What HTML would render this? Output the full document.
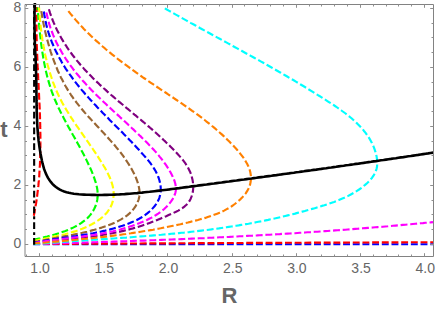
<!DOCTYPE html>
<html><head><meta charset="utf-8"><title>t vs R</title>
<style>html,body{margin:0;padding:0;background:#fff;}body{width:436px;height:309px;overflow:hidden;font-family:"Liberation Sans",sans-serif;}svg{display:block;}</style>
</head><body>
<svg width="436" height="309" viewBox="0 0 436 309">
<rect width="436" height="309" fill="#fff"/>
<g fill="none" stroke-width="2.15" stroke-dasharray="6.9 2.784" stroke-linecap="butt" stroke-linejoin="round">
<path stroke="#ff0000" pathLength="74.02" d="M33.8 215.8L34.3 213.3L34.7 210.7L35.2 208.2L35.6 205.7L36.1 203.2L36.5 200.6L36.8 198.1L37.2 195.6L37.5 193.0L37.8 190.5L38.1 188.0L38.4 185.4L38.6 182.9L38.9 180.4L39.1 177.8L39.3 175.3L39.4 172.7L39.6 170.2L39.7 167.7L39.9 165.1L40.0 162.6L40.1 160.0L40.2 157.5L40.2 154.9L40.3 152.4L40.3 149.8L40.4 147.3L40.4 144.8L40.4 142.2"/>
<path stroke="#ff0000" pathLength="134.19" stroke-dashoffset="6.23" d="M40.4 142.2L40.4 139.7L40.4 137.1L40.4 134.6L40.3 132.0L40.3 129.5L40.2 126.9L40.2 124.4L40.1 121.8L40.0 119.3L40.0 116.7L39.9 114.2L39.8 111.6L39.7 109.1L39.6 106.5L39.5 104.0L39.3 101.4L39.2 98.9L39.1 96.3L39.0 93.8L38.9 91.2L38.7 88.6L38.6 86.1L38.5 83.5L38.4 81.0L38.2 78.4L38.1 75.9L38.0 73.3L37.9 70.8L37.7 68.2L37.6 65.7L37.5 63.1L37.4 60.6L37.3 58.0L37.2 55.5L37.1 52.9L37.0 50.4L36.9 47.8L36.8 45.3L36.7 42.7L36.7 40.2L36.6 37.6L36.6 35.0L36.5 32.5L36.5 29.9L36.5 27.4L36.5 24.8L36.5 22.3L36.5 19.8L36.5 17.2L36.5 14.7L36.6 12.1L36.6 9.6L36.7 7.0"/>
<path stroke="#00ff00" pathLength="84.94" d="M33.6 240.0L35.7 239.4L37.9 238.8L40.2 238.3L42.5 237.7L44.9 237.1L47.3 236.5L49.8 235.8L52.2 235.2L54.7 234.5L57.2 233.7L59.8 233.0L62.3 232.1L64.8 231.2L67.3 230.2L69.8 229.2L72.2 228.1L74.6 226.9L76.9 225.7L79.2 224.4L81.4 222.9L83.4 221.4L85.4 219.9L87.3 218.2L89.0 216.4L90.6 214.6L92.0 212.6L93.3 210.6L94.4 208.5L95.4 206.3L96.2 204.1L96.9 201.8L97.3 199.5L97.6 197.2L97.7 194.8"/>
<path stroke="#00ff00" pathLength="198.91" stroke-dashoffset="7.47" d="M97.7 194.8L97.6 192.4L97.4 190.0L97.0 187.6L96.4 185.2L95.8 182.7L95.0 180.3L94.2 177.9L93.3 175.5L92.4 173.1L91.4 170.7L90.4 168.4L89.3 166.0L88.2 163.7L87.1 161.4L86.0 159.1L84.9 156.8L83.7 154.6L82.5 152.3L81.3 150.1L80.1 147.8L78.9 145.6L77.7 143.4L76.5 141.2L75.2 138.9L74.0 136.7L72.7 134.5L71.5 132.3L70.3 130.1L69.0 127.9L67.8 125.7L66.6 123.5L65.4 121.3L64.2 119.1L63.1 116.8L61.9 114.6L60.8 112.4L59.7 110.1L58.6 107.9L57.5 105.6L56.5 103.3L55.5 101.0L54.5 98.7L53.6 96.4L52.7 94.0L51.8 91.7L51.0 89.3L50.2 86.9L49.5 84.5L48.8 82.1L48.1 79.7L47.4 77.2L46.8 74.8L46.2 72.3L45.6 69.8L45.1 67.4L44.6 64.9L44.1 62.4L43.6 59.9L43.2 57.4L42.8 54.9L42.4 52.3L42.0 49.8L41.7 47.3L41.3 44.8L41.0 42.3L40.7 39.7L40.4 37.2L40.1 34.7L39.8 32.2L39.6 29.7L39.3 27.2L39.1 24.7L38.9 22.2L38.6 19.7L38.4 17.2L38.2 14.7L38.0 12.2L37.8 9.8L37.6 7.3"/>
<path stroke="#ffff00" pathLength="100.75" d="M33.4 241.2L35.8 240.6L38.1 240.1L40.5 239.5L43.0 239.0L45.4 238.5L47.8 238.0L50.3 237.4L52.7 236.9L55.2 236.4L57.6 235.9L60.1 235.3L62.6 234.8L65.0 234.2L67.5 233.5L70.0 232.9L72.4 232.1L74.9 231.4L77.4 230.6L79.8 229.7L82.2 228.8L84.7 227.7L87.1 226.7L89.5 225.5L91.8 224.3L94.1 223.0L96.3 221.6L98.5 220.2L100.6 218.6L102.5 217.0L104.3 215.3L106.1 213.5L107.6 211.7L109.0 209.7L110.2 207.7L111.3 205.6L112.1 203.4L112.8 201.1L113.2 198.8L113.5 196.5L113.6 194.1"/>
<path stroke="#ffff00" pathLength="204.41" stroke-dashoffset="3.91" d="M113.6 194.1L113.6 191.8L113.3 189.4L112.9 187.0L112.3 184.6L111.6 182.3L110.8 179.9L109.8 177.5L108.7 175.2L107.6 172.9L106.3 170.5L105.1 168.2L103.7 166.0L102.4 163.7L101.0 161.5L99.6 159.3L98.2 157.1L96.8 154.9L95.3 152.7L93.9 150.6L92.5 148.5L91.0 146.4L89.6 144.3L88.1 142.2L86.6 140.1L85.2 138.0L83.7 135.9L82.3 133.9L80.8 131.8L79.4 129.7L78.0 127.7L76.5 125.6L75.1 123.6L73.7 121.5L72.4 119.4L71.0 117.3L69.7 115.2L68.4 113.1L67.1 111.0L65.8 108.9L64.5 106.7L63.3 104.6L62.1 102.4L61.0 100.2L59.8 98.0L58.7 95.7L57.7 93.5L56.7 91.2L55.7 88.9L54.7 86.5L53.8 84.2L52.9 81.8L52.1 79.4L51.3 77.0L50.5 74.6L49.7 72.2L49.0 69.7L48.3 67.3L47.6 64.8L47.0 62.3L46.4 59.8L45.8 57.3L45.2 54.8L44.7 52.3L44.2 49.8L43.7 47.3L43.3 44.7L42.9 42.2L42.4 39.7L42.1 37.2L41.7 34.6L41.4 32.1L41.0 29.6L40.7 27.1L40.5 24.6L40.2 22.1L40.0 19.6L39.7 17.1L39.5 14.7L39.3 12.2L39.2 9.8L39.0 7.4"/>
<path stroke="#996633" pathLength="126.24" d="M33.2 242.4L35.8 241.8L38.3 241.3L40.9 240.7L43.4 240.2L45.9 239.7L48.4 239.2L50.9 238.8L53.4 238.3L55.8 237.9L58.3 237.4L60.7 237.0L63.1 236.6L65.5 236.1L67.9 235.7L70.3 235.2L72.7 234.8L75.1 234.3L77.5 233.8L79.9 233.3L82.3 232.8L84.7 232.2L87.1 231.7L89.6 231.1L92.0 230.4L94.4 229.8L96.8 229.1L99.3 228.3L101.7 227.6L104.2 226.7L106.7 225.9L109.1 225.0L111.6 224.0L114.1 222.9L116.5 221.8L118.8 220.6L121.1 219.4L123.4 218.0L125.5 216.6L127.5 215.1L129.5 213.4L131.3 211.7L132.9 209.8L134.4 207.9L135.8 205.8L136.9 203.7L137.9 201.5L138.7 199.3L139.2 197.0L139.5 194.7L139.5 192.4"/>
<path stroke="#996633" pathLength="211.18" stroke-dashoffset="0.35" d="M139.5 192.4L139.4 190.0L139.0 187.6L138.5 185.3L137.8 182.9L137.0 180.5L136.1 178.2L135.1 175.8L134.0 173.5L132.8 171.3L131.6 169.0L130.3 166.8L129.0 164.6L127.6 162.5L126.2 160.4L124.8 158.3L123.3 156.2L121.8 154.2L120.3 152.2L118.7 150.2L117.1 148.3L115.5 146.3L113.9 144.4L112.2 142.5L110.5 140.6L108.8 138.7L107.1 136.8L105.4 134.9L103.7 133.1L102.0 131.2L100.2 129.4L98.5 127.5L96.8 125.7L95.0 123.8L93.3 122.0L91.6 120.1L89.9 118.2L88.2 116.4L86.5 114.5L84.8 112.6L83.2 110.7L81.6 108.8L80.0 106.8L78.4 104.9L76.8 102.9L75.3 100.9L73.8 98.9L72.4 96.9L70.9 94.8L69.6 92.7L68.2 90.6L66.9 88.4L65.6 86.3L64.4 84.1L63.2 81.8L62.1 79.6L60.9 77.4L59.8 75.1L58.8 72.8L57.7 70.5L56.8 68.1L55.8 65.8L54.9 63.4L54.0 61.1L53.1 58.7L52.2 56.3L51.4 53.9L50.6 51.5L49.9 49.0L49.2 46.6L48.5 44.2L47.8 41.7L47.1 39.3L46.5 36.8L45.9 34.4L45.3 31.9L44.8 29.5L44.2 27.0L43.7 24.6L43.2 22.1L42.8 19.7L42.3 17.2L41.9 14.8L41.5 12.3L41.1 9.9"/>
<path stroke="#0000ff" pathLength="147.49" d="M33.2 242.8L35.7 242.3L38.3 241.9L40.8 241.4L43.3 241.0L45.9 240.6L48.4 240.2L50.9 239.8L53.4 239.4L55.9 239.0L58.4 238.6L60.9 238.3L63.4 237.9L65.9 237.5L68.4 237.2L70.8 236.8L73.3 236.4L75.8 236.1L78.3 235.7L80.7 235.3L83.2 234.9L85.6 234.5L88.1 234.1L90.6 233.6L93.0 233.2L95.5 232.7L97.9 232.2L100.4 231.7L102.8 231.1L105.3 230.6L107.7 230.0L110.2 229.4L112.6 228.7L115.1 228.0L117.5 227.3L120.0 226.5L122.5 225.8L124.9 224.9L127.3 224.0L129.8 223.1L132.2 222.1L134.5 221.1L136.8 220.0L139.1 218.8L141.3 217.5L143.5 216.1L145.6 214.7L147.6 213.1L149.5 211.5L151.4 209.8L153.1 207.9L154.8 206.0L156.2 203.9L157.5 201.8L158.7 199.6L159.5 197.3L160.2 194.9L160.6 192.5L160.8 190.1"/>
<path stroke="#0000ff" pathLength="219.93" stroke-dashoffset="2.23" d="M160.8 190.1L160.7 187.6L160.5 185.1L160.0 182.7L159.4 180.3L158.7 178.0L157.8 175.7L156.8 173.4L155.7 171.3L154.4 169.1L153.1 167.0L151.7 165.0L150.2 162.9L148.6 160.9L147.0 159.0L145.3 157.0L143.6 155.1L141.9 153.2L140.2 151.2L138.4 149.3L136.7 147.5L134.9 145.6L133.1 143.7L131.4 141.8L129.6 140.0L127.8 138.1L126.0 136.3L124.2 134.5L122.4 132.6L120.6 130.8L118.8 129.0L117.0 127.2L115.2 125.4L113.4 123.5L111.5 121.7L109.7 119.9L108.0 118.1L106.2 116.3L104.4 114.5L102.6 112.7L100.8 110.8L99.1 109.0L97.3 107.2L95.6 105.3L93.8 103.5L92.1 101.6L90.4 99.8L88.7 97.9L87.1 96.0L85.4 94.2L83.8 92.3L82.1 90.4L80.5 88.5L78.9 86.5L77.4 84.6L75.8 82.6L74.3 80.7L72.8 78.7L71.4 76.7L69.9 74.7L68.5 72.7L67.1 70.6L65.7 68.6L64.4 66.5L63.1 64.4L61.8 62.3L60.6 60.1L59.4 58.0L58.2 55.8L57.1 53.6L56.0 51.4L54.9 49.1L53.9 46.8L52.9 44.5L51.9 42.2L51.0 39.8L50.1 37.5L49.3 35.1L48.5 32.6L47.8 30.2L47.1 27.7L46.4 25.1L45.8 22.6L45.3 20.0L44.8 17.4L44.3 14.7L43.9 12.0L43.5 9.3"/>
<path stroke="#800080" pathLength="180.02" d="M33.2 243.5L35.7 243.1L38.1 242.8L40.6 242.5L43.1 242.2L45.6 241.9L48.1 241.6L50.6 241.3L53.1 241.1L55.6 240.8L58.1 240.5L60.7 240.2L63.2 240.0L65.7 239.7L68.2 239.4L70.8 239.1L73.3 238.9L75.8 238.6L78.4 238.3L80.9 238.0L83.4 237.7L86.0 237.3L88.5 237.0L91.0 236.7L93.5 236.3L96.1 236.0L98.6 235.6L101.1 235.2L103.6 234.8L106.1 234.4L108.6 233.9L111.1 233.5L113.5 233.0L116.0 232.5L118.5 232.0L120.9 231.4L123.4 230.9L125.8 230.3L128.2 229.7L130.6 229.0L133.0 228.4L135.4 227.7L137.8 227.0L140.2 226.2L142.5 225.4L144.9 224.6L147.2 223.8L149.6 222.9L151.9 222.0L154.3 221.1L156.6 220.2L159.0 219.2L161.4 218.2L163.8 217.2L166.2 216.2L168.6 215.1L171.1 214.0L173.5 212.9L176.0 211.8L178.3 210.6L180.6 209.3L182.7 207.9L184.7 206.3L186.5 204.7L188.1 202.9L189.5 201.0L190.6 198.9L191.5 196.7L192.3 194.4L192.8 192.1L193.1 189.7L193.2 187.2"/>
<path stroke="#800080" pathLength="234.98" stroke-dashoffset="5.71" d="M193.2 187.2L193.1 184.7L192.9 182.2L192.5 179.7L191.9 177.3L191.2 174.8L190.4 172.5L189.3 170.2L188.2 168.0L186.9 165.8L185.6 163.7L184.1 161.7L182.6 159.7L181.0 157.8L179.3 155.9L177.6 154.0L175.9 152.2L174.2 150.3L172.4 148.5L170.6 146.7L168.8 144.9L167.0 143.2L165.2 141.4L163.3 139.7L161.5 137.9L159.6 136.2L157.7 134.5L155.8 132.8L153.9 131.1L152.0 129.4L150.1 127.8L148.2 126.1L146.2 124.4L144.3 122.8L142.3 121.1L140.4 119.5L138.4 117.9L136.5 116.2L134.5 114.6L132.6 113.0L130.6 111.3L128.7 109.7L126.7 108.1L124.8 106.5L122.8 104.8L120.9 103.2L118.9 101.6L117.0 99.9L115.1 98.3L113.2 96.6L111.2 95.0L109.3 93.3L107.4 91.6L105.6 89.9L103.7 88.3L101.8 86.6L100.0 84.9L98.2 83.1L96.3 81.4L94.5 79.7L92.8 77.9L91.0 76.1L89.2 74.3L87.5 72.5L85.8 70.7L84.1 68.9L82.5 67.0L80.8 65.2L79.2 63.3L77.6 61.4L76.0 59.5L74.5 57.5L72.9 55.5L71.4 53.5L70.0 51.5L68.5 49.5L67.1 47.4L65.8 45.3L64.4 43.2L63.1 41.1L61.8 38.9L60.6 36.7L59.4 34.5L58.2 32.2L57.0 30.0L55.9 27.6L54.9 25.3L53.8 22.9L52.8 20.5L51.9 18.1L51.0 15.6L50.1 13.1L49.3 10.5L48.5 7.9"/>
<path stroke="#ff00ff" pathLength="162.26" d="M33.2 243.2L35.7 242.7L38.3 242.3L40.9 241.9L43.4 241.5L46.0 241.1L48.5 240.8L51.1 240.4L53.6 240.1L56.1 239.8L58.6 239.5L61.1 239.1L63.7 238.8L66.2 238.5L68.6 238.2L71.1 237.9L73.6 237.6L76.1 237.3L78.6 237.0L81.1 236.7L83.5 236.4L86.0 236.0L88.4 235.7L90.9 235.3L93.4 235.0L95.8 234.6L98.3 234.2L100.7 233.7L103.1 233.3L105.6 232.8L108.0 232.3L110.5 231.8L112.9 231.3L115.3 230.7L117.8 230.1L120.2 229.5L122.6 228.8L125.1 228.1L127.5 227.4L129.9 226.6L132.4 225.8L134.8 224.9L137.2 224.0L139.7 223.1L142.1 222.1L144.5 221.0L146.9 220.0L149.2 218.8L151.6 217.6L153.8 216.3L156.0 215.0L158.2 213.6L160.3 212.1L162.3 210.6L164.2 209.0L166.0 207.3L167.7 205.5L169.4 203.6L170.9 201.7L172.3 199.7L173.5 197.5L174.5 195.3L175.3 193.1L175.8 190.8L175.9 188.4"/>
<path stroke="#ff00ff" pathLength="224.88" stroke-dashoffset="7.32" d="M175.9 188.4L175.7 186.0L175.3 183.6L174.6 181.2L173.7 178.8L172.6 176.4L171.4 174.1L170.2 171.8L168.8 169.5L167.5 167.3L166.1 165.2L164.6 163.1L163.1 161.1L161.6 159.0L160.0 157.1L158.4 155.1L156.8 153.2L155.2 151.4L153.5 149.5L151.8 147.7L150.1 145.9L148.3 144.1L146.6 142.3L144.8 140.5L143.0 138.7L141.2 136.9L139.4 135.2L137.6 133.4L135.7 131.7L133.9 129.9L132.0 128.2L130.2 126.5L128.3 124.8L126.5 123.0L124.6 121.3L122.7 119.6L120.8 117.9L119.0 116.1L117.1 114.4L115.2 112.7L113.3 111.0L111.5 109.2L109.6 107.5L107.7 105.8L105.9 104.0L104.0 102.3L102.2 100.5L100.4 98.8L98.5 97.0L96.7 95.2L94.9 93.5L93.2 91.7L91.4 89.9L89.6 88.1L87.9 86.2L86.2 84.4L84.5 82.5L82.8 80.7L81.2 78.8L79.5 76.9L77.9 75.0L76.3 73.1L74.8 71.1L73.2 69.2L71.7 67.2L70.2 65.2L68.8 63.2L67.4 61.1L66.0 59.1L64.6 57.0L63.3 54.9L62.0 52.8L60.8 50.6L59.6 48.5L58.4 46.3L57.2 44.0L56.1 41.8L55.1 39.5L54.1 37.2L53.1 34.9L52.2 32.5L51.3 30.1L50.4 27.7L49.6 25.2L48.9 22.8L48.2 20.2L47.6 17.7L47.0 15.1L46.4 12.5L45.9 9.8"/>
<path stroke="#0000ff" d="M33.2 244.2L433.0 244.2"/>
<path stroke="#ff0000" d="M33.2 244.0L233.0 243.0L433.0 242.2"/>
<path stroke="#ff00ff" d="M33.2 244.0L35.7 243.9L38.2 243.8L40.7 243.8L43.3 243.7L45.8 243.6L48.3 243.6L50.8 243.5L53.3 243.4L55.9 243.4L58.4 243.3L60.9 243.2L63.4 243.1L65.9 243.1L68.4 243.0L71.0 242.9L73.5 242.9L76.0 242.8L78.5 242.7L81.0 242.6L83.5 242.6L86.1 242.5L88.6 242.4L91.1 242.3L93.6 242.3L96.1 242.2L98.7 242.1L101.2 242.0L103.7 241.9L106.2 241.9L108.7 241.8L111.2 241.7L113.8 241.6L116.3 241.5L118.8 241.4L121.3 241.4L123.8 241.3L126.3 241.2L128.9 241.1L131.4 241.0L133.9 240.9L136.4 240.8L138.9 240.7L141.5 240.6L144.0 240.6L146.5 240.5L149.0 240.4L151.5 240.3L154.0 240.2L156.6 240.1L159.1 240.0L161.6 239.9L164.1 239.8L166.6 239.7L169.1 239.6L171.7 239.5L174.2 239.4L176.7 239.3L179.2 239.2L181.7 239.1L184.2 239.0L186.8 238.8L189.3 238.7L191.8 238.6L194.3 238.5L196.8 238.4L199.3 238.3L201.8 238.2L204.4 238.1L206.9 237.9L209.4 237.8L211.9 237.7L214.4 237.6L216.9 237.5L219.5 237.3L222.0 237.2L224.5 237.1L227.0 237.0L229.5 236.9L232.0 236.7L234.6 236.6L237.1 236.5L239.6 236.3L242.1 236.2L244.6 236.1L247.1 235.9L249.6 235.8L252.2 235.7L254.7 235.5L257.2 235.4L259.7 235.2L262.2 235.1L264.7 235.0L267.2 234.8L269.8 234.7L272.3 234.5L274.8 234.4L277.3 234.2L279.8 234.1L282.3 233.9L284.8 233.8L287.4 233.6L289.9 233.5L292.4 233.3L294.9 233.2L297.4 233.0L299.9 232.8L302.4 232.7L305.0 232.5L307.5 232.3L310.0 232.2L312.5 232.0L315.0 231.8L317.5 231.7L320.0 231.5L322.5 231.3L325.1 231.1L327.6 231.0L330.1 230.8L332.6 230.6L335.1 230.4L337.6 230.2L340.1 230.1L342.6 229.9L345.2 229.7L347.7 229.5L350.2 229.3L352.7 229.1L355.2 228.9L357.7 228.7L360.2 228.5L362.7 228.3L365.2 228.1L367.8 227.9L370.3 227.7L372.8 227.5L375.3 227.3L377.8 227.1L380.3 226.9L382.8 226.7L385.3 226.5L387.8 226.3L390.3 226.0L392.9 225.8L395.4 225.6L397.9 225.4L400.4 225.2L402.9 224.9L405.4 224.7L407.9 224.5L410.4 224.3L412.9 224.0L415.4 223.8L417.9 223.6L420.5 223.3L423.0 223.1L425.5 222.8L428.0 222.6L430.5 222.4L433.0 222.1"/>
<path stroke="#00ffff" pathLength="367.72" d="M33.3 244.2L35.8 244.0L38.3 243.8L40.8 243.6L43.3 243.4L45.8 243.2L48.3 243.0L50.8 242.8L53.2 242.6L55.7 242.4L58.2 242.3L60.7 242.1L63.2 241.9L65.8 241.7L68.3 241.5L70.8 241.4L73.3 241.2L75.8 241.0L78.3 240.8L80.8 240.7L83.3 240.5L85.8 240.3L88.3 240.2L90.9 240.0L93.4 239.8L95.9 239.7L98.4 239.5L100.9 239.3L103.4 239.1L106.0 239.0L108.5 238.8L111.0 238.6L113.5 238.5L116.0 238.3L118.5 238.1L121.1 237.9L123.6 237.7L126.1 237.6L128.6 237.4L131.1 237.2L133.7 237.0L136.2 236.8L138.7 236.6L141.2 236.4L143.7 236.2L146.3 236.0L148.8 235.8L151.3 235.6L153.8 235.4L156.3 235.2L158.8 235.0L161.4 234.8L163.9 234.5L166.4 234.3L168.9 234.1L171.4 233.8L173.9 233.6L176.4 233.4L178.9 233.1L181.5 232.8L184.0 232.6L186.5 232.3L189.0 232.1L191.5 231.8L194.0 231.5L196.5 231.2L199.0 230.9L201.5 230.6L204.0 230.3L206.5 230.0L208.9 229.7L211.4 229.4L213.9 229.0L216.4 228.7L218.9 228.4L221.4 228.0L223.9 227.7L226.3 227.3L228.8 226.9L231.3 226.5L233.8 226.2L236.2 225.8L238.7 225.4L241.2 224.9L243.6 224.5L246.1 224.1L248.5 223.7L251.0 223.2L253.5 222.8L255.9 222.3L258.4 221.8L260.8 221.4L263.3 220.9L265.7 220.4L268.2 219.9L270.6 219.3L273.1 218.8L275.5 218.3L278.0 217.7L280.4 217.2L282.8 216.6L285.3 216.0L287.7 215.4L290.2 214.8L292.6 214.2L295.1 213.6L297.5 212.9L299.9 212.3L302.4 211.6L304.8 211.0L307.3 210.3L309.7 209.6L312.2 208.9L314.6 208.2L317.1 207.4L319.5 206.7L321.9 205.9L324.4 205.2L326.8 204.4L329.3 203.6L331.7 202.7L334.1 201.9L336.5 201.0L338.9 200.0L341.2 199.1L343.6 198.1L345.9 197.0L348.2 195.9L350.4 194.7L352.6 193.5L354.8 192.3L357.0 190.9L359.1 189.5L361.1 188.1L363.1 186.5L365.1 184.9L367.0 183.2L368.8 181.5L370.5 179.6L372.1 177.7L373.5 175.7L374.7 173.6L375.7 171.4L376.5 169.1L377.0 166.8L377.2 164.4L377.2 162.0"/>
<path stroke="#00ffff" pathLength="269.38" stroke-dashoffset="9.41" d="M377.2 162.0L377.0 159.5L376.7 157.0L376.2 154.6L375.5 152.1L374.7 149.7L373.9 147.4L372.9 145.1L371.9 142.9L370.7 140.7L369.5 138.6L368.2 136.6L366.8 134.6L365.4 132.6L363.8 130.7L362.3 128.8L360.6 127.0L358.9 125.2L357.1 123.4L355.3 121.7L353.4 120.0L351.5 118.3L349.6 116.7L347.6 115.1L345.6 113.5L343.5 112.0L341.4 110.5L339.3 109.0L337.2 107.5L335.0 106.0L332.9 104.6L330.7 103.2L328.5 101.8L326.3 100.4L324.2 99.0L322.0 97.6L319.8 96.2L317.6 94.9L315.4 93.5L313.2 92.1L311.1 90.8L308.9 89.5L306.7 88.1L304.5 86.8L302.4 85.5L300.2 84.2L298.0 82.9L295.9 81.6L293.7 80.3L291.5 79.0L289.3 77.8L287.2 76.5L285.0 75.2L282.8 74.0L280.7 72.7L278.5 71.5L276.3 70.2L274.2 69.0L272.0 67.8L269.8 66.5L267.6 65.3L265.5 64.1L263.3 62.8L261.1 61.6L259.0 60.4L256.8 59.2L254.6 58.0L252.4 56.8L250.3 55.6L248.1 54.4L245.9 53.2L243.7 52.0L241.6 50.8L239.4 49.6L237.2 48.4L235.0 47.2L232.8 46.0L230.7 44.8L228.5 43.6L226.3 42.4L224.1 41.2L221.9 40.0L219.7 38.8L217.5 37.6L215.3 36.4L213.1 35.2L210.9 34.0L208.7 32.8L206.5 31.6L204.3 30.4L202.1 29.2L199.9 28.0L197.7 26.7L195.5 25.5L193.3 24.3L191.0 23.1L188.8 21.8L186.6 20.6L184.4 19.4L182.1 18.1L179.9 16.9L177.7 15.6L175.4 14.4L173.2 13.1L170.9 11.8L168.7 10.6L166.4 9.3L164.2 8.0"/>
<path stroke="#ff8000" pathLength="240.74" d="M33.1 243.5L35.6 243.3L38.2 243.1L40.7 242.9L43.2 242.7L45.8 242.5L48.3 242.2L50.8 242.0L53.4 241.8L55.9 241.6L58.4 241.4L60.9 241.1L63.5 240.9L66.0 240.7L68.5 240.5L71.0 240.2L73.5 240.0L76.0 239.8L78.5 239.5L81.0 239.3L83.5 239.0L86.0 238.8L88.5 238.5L91.0 238.2L93.5 238.0L96.0 237.7L98.5 237.4L101.0 237.1L103.5 236.9L106.0 236.6L108.5 236.3L111.0 236.0L113.5 235.6L116.0 235.3L118.5 235.0L120.9 234.7L123.4 234.3L125.9 234.0L128.4 233.6L130.9 233.3L133.4 232.9L135.9 232.5L138.3 232.1L140.8 231.7L143.3 231.3L145.8 230.9L148.3 230.5L150.7 230.1L153.2 229.7L155.7 229.2L158.2 228.7L160.7 228.3L163.1 227.8L165.6 227.3L168.1 226.8L170.6 226.3L173.1 225.8L175.5 225.3L178.0 224.7L180.5 224.2L183.0 223.6L185.5 223.0L187.9 222.5L190.4 221.9L192.9 221.2L195.4 220.6L197.9 220.0L200.3 219.3L202.8 218.6L205.3 217.9L207.7 217.1L210.1 216.3L212.5 215.5L214.9 214.6L217.2 213.7L219.6 212.7L221.9 211.7L224.1 210.6L226.3 209.4L228.5 208.2L230.7 206.9L232.8 205.5L234.8 204.0L236.8 202.4L238.7 200.8L240.6 199.1L242.4 197.2L244.1 195.3L245.7 193.3L247.1 191.2L248.3 189.0L249.3 186.8L250.1 184.4L250.6 182.1L250.9 179.7L251.0 177.4"/>
<path stroke="#ff8000" pathLength="251.69" stroke-dashoffset="8.32" d="M251.0 177.4L250.8 175.1L250.4 172.8L249.9 170.5L249.1 168.3L248.2 166.0L247.1 163.8L245.9 161.7L244.6 159.5L243.2 157.4L241.6 155.3L240.0 153.3L238.3 151.2L236.6 149.2L234.8 147.3L233.0 145.3L231.1 143.4L229.3 141.6L227.4 139.7L225.5 137.9L223.7 136.1L221.8 134.4L219.9 132.7L217.9 131.0L216.0 129.3L214.1 127.6L212.1 126.0L210.2 124.4L208.2 122.8L206.2 121.3L204.3 119.7L202.3 118.2L200.3 116.7L198.3 115.2L196.3 113.7L194.2 112.2L192.2 110.8L190.2 109.3L188.2 107.9L186.1 106.5L184.1 105.1L182.0 103.6L180.0 102.2L177.9 100.9L175.8 99.5L173.8 98.1L171.7 96.7L169.6 95.3L167.5 93.9L165.5 92.5L163.4 91.2L161.3 89.8L159.2 88.4L157.1 87.0L155.0 85.6L153.0 84.2L150.9 82.8L148.8 81.4L146.7 79.9L144.6 78.5L142.5 77.1L140.5 75.6L138.4 74.1L136.3 72.7L134.3 71.2L132.2 69.7L130.1 68.2L128.1 66.7L126.1 65.2L124.0 63.7L122.0 62.2L120.0 60.6L118.0 59.1L116.0 57.5L114.0 55.9L112.0 54.3L110.0 52.7L108.1 51.1L106.1 49.5L104.2 47.8L102.3 46.2L100.4 44.5L98.5 42.8L96.6 41.1L94.7 39.4L92.9 37.7L91.1 36.0L89.3 34.2L87.5 32.5L85.7 30.7L83.9 28.9L82.2 27.1L80.5 25.2L78.8 23.4L77.1 21.5L75.4 19.6L73.8 17.7L72.2 15.8L70.6 13.9L69.0 11.9L67.5 10.0"/>
</g>
<path d="M34.15 244.8V4.5" fill="none" stroke="#000" stroke-width="2.1" stroke-dasharray="6.7 3.15 2.8 3.15"/>
<path d="M34.9 3.0L34.8 5.5L34.7 8.0L34.6 10.5L34.5 13.0L34.5 15.5L34.5 18.0L34.4 20.5L34.4 23.1L34.5 25.6L34.5 28.1L34.6 30.6L34.6 33.1L34.7 35.6L34.8 38.2L34.8 40.7L34.9 43.2L35.0 45.7L35.1 48.2L35.2 50.8L35.3 53.3L35.5 55.8L35.6 58.3L35.7 60.8L35.8 63.4L35.9 65.9L35.9 68.4L36.0 70.9L36.1 73.4L36.2 75.9L36.2 78.4L36.3 80.9L36.3 83.4L36.4 85.9L36.4 88.4L36.4 90.9L36.4 93.4L36.5 95.9L36.5 98.4L36.5 100.9L36.6 103.4L36.6 105.9L36.7 108.4L36.7 110.9L36.8 113.4L36.9 115.9L37.0 118.3L37.1 120.8L37.2 123.3L37.3 125.8L37.5 128.3L37.7 130.9L37.9 133.4L38.1 135.9L38.4 138.4L38.6 140.9L39.0 143.4L39.3 145.9L39.7 148.5L40.1 151.0L40.5 153.5L41.0 156.1L41.5 158.6L42.0 161.1L42.6 163.7L43.3 166.2L44.0 168.7L44.9 171.1L45.8 173.4L46.9 175.7L48.0 177.9L49.4 180.0L50.8 181.9L52.4 183.8L54.1 185.5L55.9 187.0L57.9 188.4L59.9 189.6L62.0 190.6L64.2 191.5L66.5 192.2L68.9 192.8L71.3 193.3L73.8 193.7L76.3 194.0L78.9 194.3L81.4 194.5L84.0 194.6L86.6 194.7L89.1 194.8L91.7 194.9L94.2 194.9L96.8 195.0L99.3 195.0L101.9 195.0L104.4 194.9L106.9 194.9L109.5 194.8L112.0 194.7L114.5 194.6L117.0 194.5L119.6 194.4L122.1 194.2L124.6 194.1L127.1 193.9L129.6 193.7L132.1 193.5L134.6 193.3L137.1 193.1L139.6 192.8L142.1 192.6L144.6 192.3L147.1 192.0L149.6 191.8L152.1 191.5L154.5 191.2L157.0 190.9L159.5 190.6L162.0 190.3L164.5 190.0L167.0 189.7L169.5 189.4L171.9 189.0L174.4 188.7L176.9 188.4L179.4 188.1L181.9 187.7L184.4 187.4L186.8 187.1L189.3 186.8L191.8 186.4L194.3 186.1L196.8 185.8L199.3 185.4L201.8 185.1L204.3 184.8L206.7 184.5L209.2 184.1L211.7 183.8L214.2 183.5L216.7 183.1L219.2 182.8L221.7 182.5L224.2 182.1L226.6 181.8L229.1 181.5L231.6 181.1L234.1 180.8L236.6 180.5L239.1 180.1L241.6 179.8L244.1 179.5L246.6 179.1L249.1 178.8L251.5 178.5L254.0 178.1L256.5 177.8L259.0 177.4L261.5 177.1L264.0 176.8L266.5 176.4L269.0 176.1L271.5 175.8L274.0 175.4L276.5 175.1L278.9 174.7L281.4 174.4L283.9 174.0L286.4 173.7L288.9 173.4L291.4 173.0L293.9 172.7L296.4 172.3L298.9 172.0L301.4 171.6L303.9 171.3L306.3 170.9L308.8 170.6L311.3 170.3L313.8 169.9L316.3 169.6L318.8 169.2L321.3 168.9L323.8 168.5L326.3 168.2L328.8 167.8L331.3 167.5L333.7 167.1L336.2 166.8L338.7 166.4L341.2 166.0L343.7 165.7L346.2 165.3L348.7 165.0L351.2 164.6L353.7 164.3L356.1 163.9L358.6 163.6L361.1 163.2L363.6 162.9L366.1 162.5L368.6 162.1L371.1 161.8L373.6 161.4L376.0 161.1L378.5 160.7L381.0 160.3L383.5 160.0L386.0 159.6L388.5 159.2L390.9 158.9L393.4 158.5L395.9 158.2L398.4 157.8L400.9 157.4L403.4 157.1L405.8 156.7L408.3 156.3L410.8 156.0L413.3 155.6L415.8 155.2L418.3 154.9L420.7 154.5L423.2 154.1L425.7 153.7L428.2 153.4L430.6 153.0L433.1 152.6" fill="none" stroke="#000" stroke-width="2.6" stroke-linejoin="round"/>
<path d="M25.0 4.5H433.5V256.5H25.0Z" fill="none" stroke="#828282" stroke-width="1"/>
<path d="M26.5 256.5v-2.0M26.5 4.5v2.0M39.5 256.5v-3.3M39.5 4.5v3.3M52.5 256.5v-2.0M52.5 4.5v2.0M65.5 256.5v-2.0M65.5 4.5v2.0M78.5 256.5v-2.0M78.5 4.5v2.0M90.5 256.5v-2.0M90.5 4.5v2.0M103.5 256.5v-3.3M103.5 4.5v3.3M116.5 256.5v-2.0M116.5 4.5v2.0M129.5 256.5v-2.0M129.5 4.5v2.0M142.5 256.5v-2.0M142.5 4.5v2.0M155.5 256.5v-2.0M155.5 4.5v2.0M167.5 256.5v-3.3M167.5 4.5v3.3M180.5 256.5v-2.0M180.5 4.5v2.0M193.5 256.5v-2.0M193.5 4.5v2.0M206.5 256.5v-2.0M206.5 4.5v2.0M219.5 256.5v-2.0M219.5 4.5v2.0M232.5 256.5v-3.3M232.5 4.5v3.3M244.5 256.5v-2.0M244.5 4.5v2.0M257.5 256.5v-2.0M257.5 4.5v2.0M270.5 256.5v-2.0M270.5 4.5v2.0M283.5 256.5v-2.0M283.5 4.5v2.0M296.5 256.5v-3.3M296.5 4.5v3.3M309.5 256.5v-2.0M309.5 4.5v2.0M321.5 256.5v-2.0M321.5 4.5v2.0M334.5 256.5v-2.0M334.5 4.5v2.0M347.5 256.5v-2.0M347.5 4.5v2.0M360.5 256.5v-3.3M360.5 4.5v3.3M373.5 256.5v-2.0M373.5 4.5v2.0M386.5 256.5v-2.0M386.5 4.5v2.0M398.5 256.5v-2.0M398.5 4.5v2.0M411.5 256.5v-2.0M411.5 4.5v2.0M424.5 256.5v-3.3M424.5 4.5v3.3M25.0 244.5h3.3M433.5 244.5h-3.3M25.0 229.5h2.0M433.5 229.5h-2.0M25.0 214.5h2.0M433.5 214.5h-2.0M25.0 200.5h2.0M433.5 200.5h-2.0M25.0 185.5h3.3M433.5 185.5h-3.3M25.0 170.5h2.0M433.5 170.5h-2.0M25.0 155.5h2.0M433.5 155.5h-2.0M25.0 141.5h2.0M433.5 141.5h-2.0M25.0 126.5h3.3M433.5 126.5h-3.3M25.0 111.5h2.0M433.5 111.5h-2.0M25.0 96.5h2.0M433.5 96.5h-2.0M25.0 82.5h2.0M433.5 82.5h-2.0M25.0 67.5h3.3M433.5 67.5h-3.3M25.0 52.5h2.0M433.5 52.5h-2.0M25.0 37.5h2.0M433.5 37.5h-2.0M25.0 23.5h2.0M433.5 23.5h-2.0M25.0 8.5h3.3M433.5 8.5h-3.3" fill="none" stroke="#8e8e8e" stroke-width="1"/>
<g font-family="'Liberation Sans', sans-serif" font-size="14" fill="#666666">
<g text-anchor="middle">
<text x="40.1" y="273.1">1.0</text>
<text x="104.3" y="273.1">1.5</text>
<text x="168.5" y="273.1">2.0</text>
<text x="232.7" y="273.1">2.5</text>
<text x="296.9" y="273.1">3.0</text>
<text x="361.1" y="273.1">3.5</text>
<text x="425.3" y="273.1">4.0</text>
</g>
<g text-anchor="end">
<text x="21.4" y="248.4">0</text>
<text x="21.4" y="189.42">2</text>
<text x="21.4" y="130.44">4</text>
<text x="21.4" y="71.46">6</text>
<text x="21.4" y="12.48">8</text>
</g>
</g>
<g font-family="'Liberation Sans', sans-serif" font-size="22" font-weight="bold" fill="#666666">
<text x="221.5" y="302.9">R</text>
<text x="0.3" y="137.4">t</text>
</g>
</svg>
</body></html>
